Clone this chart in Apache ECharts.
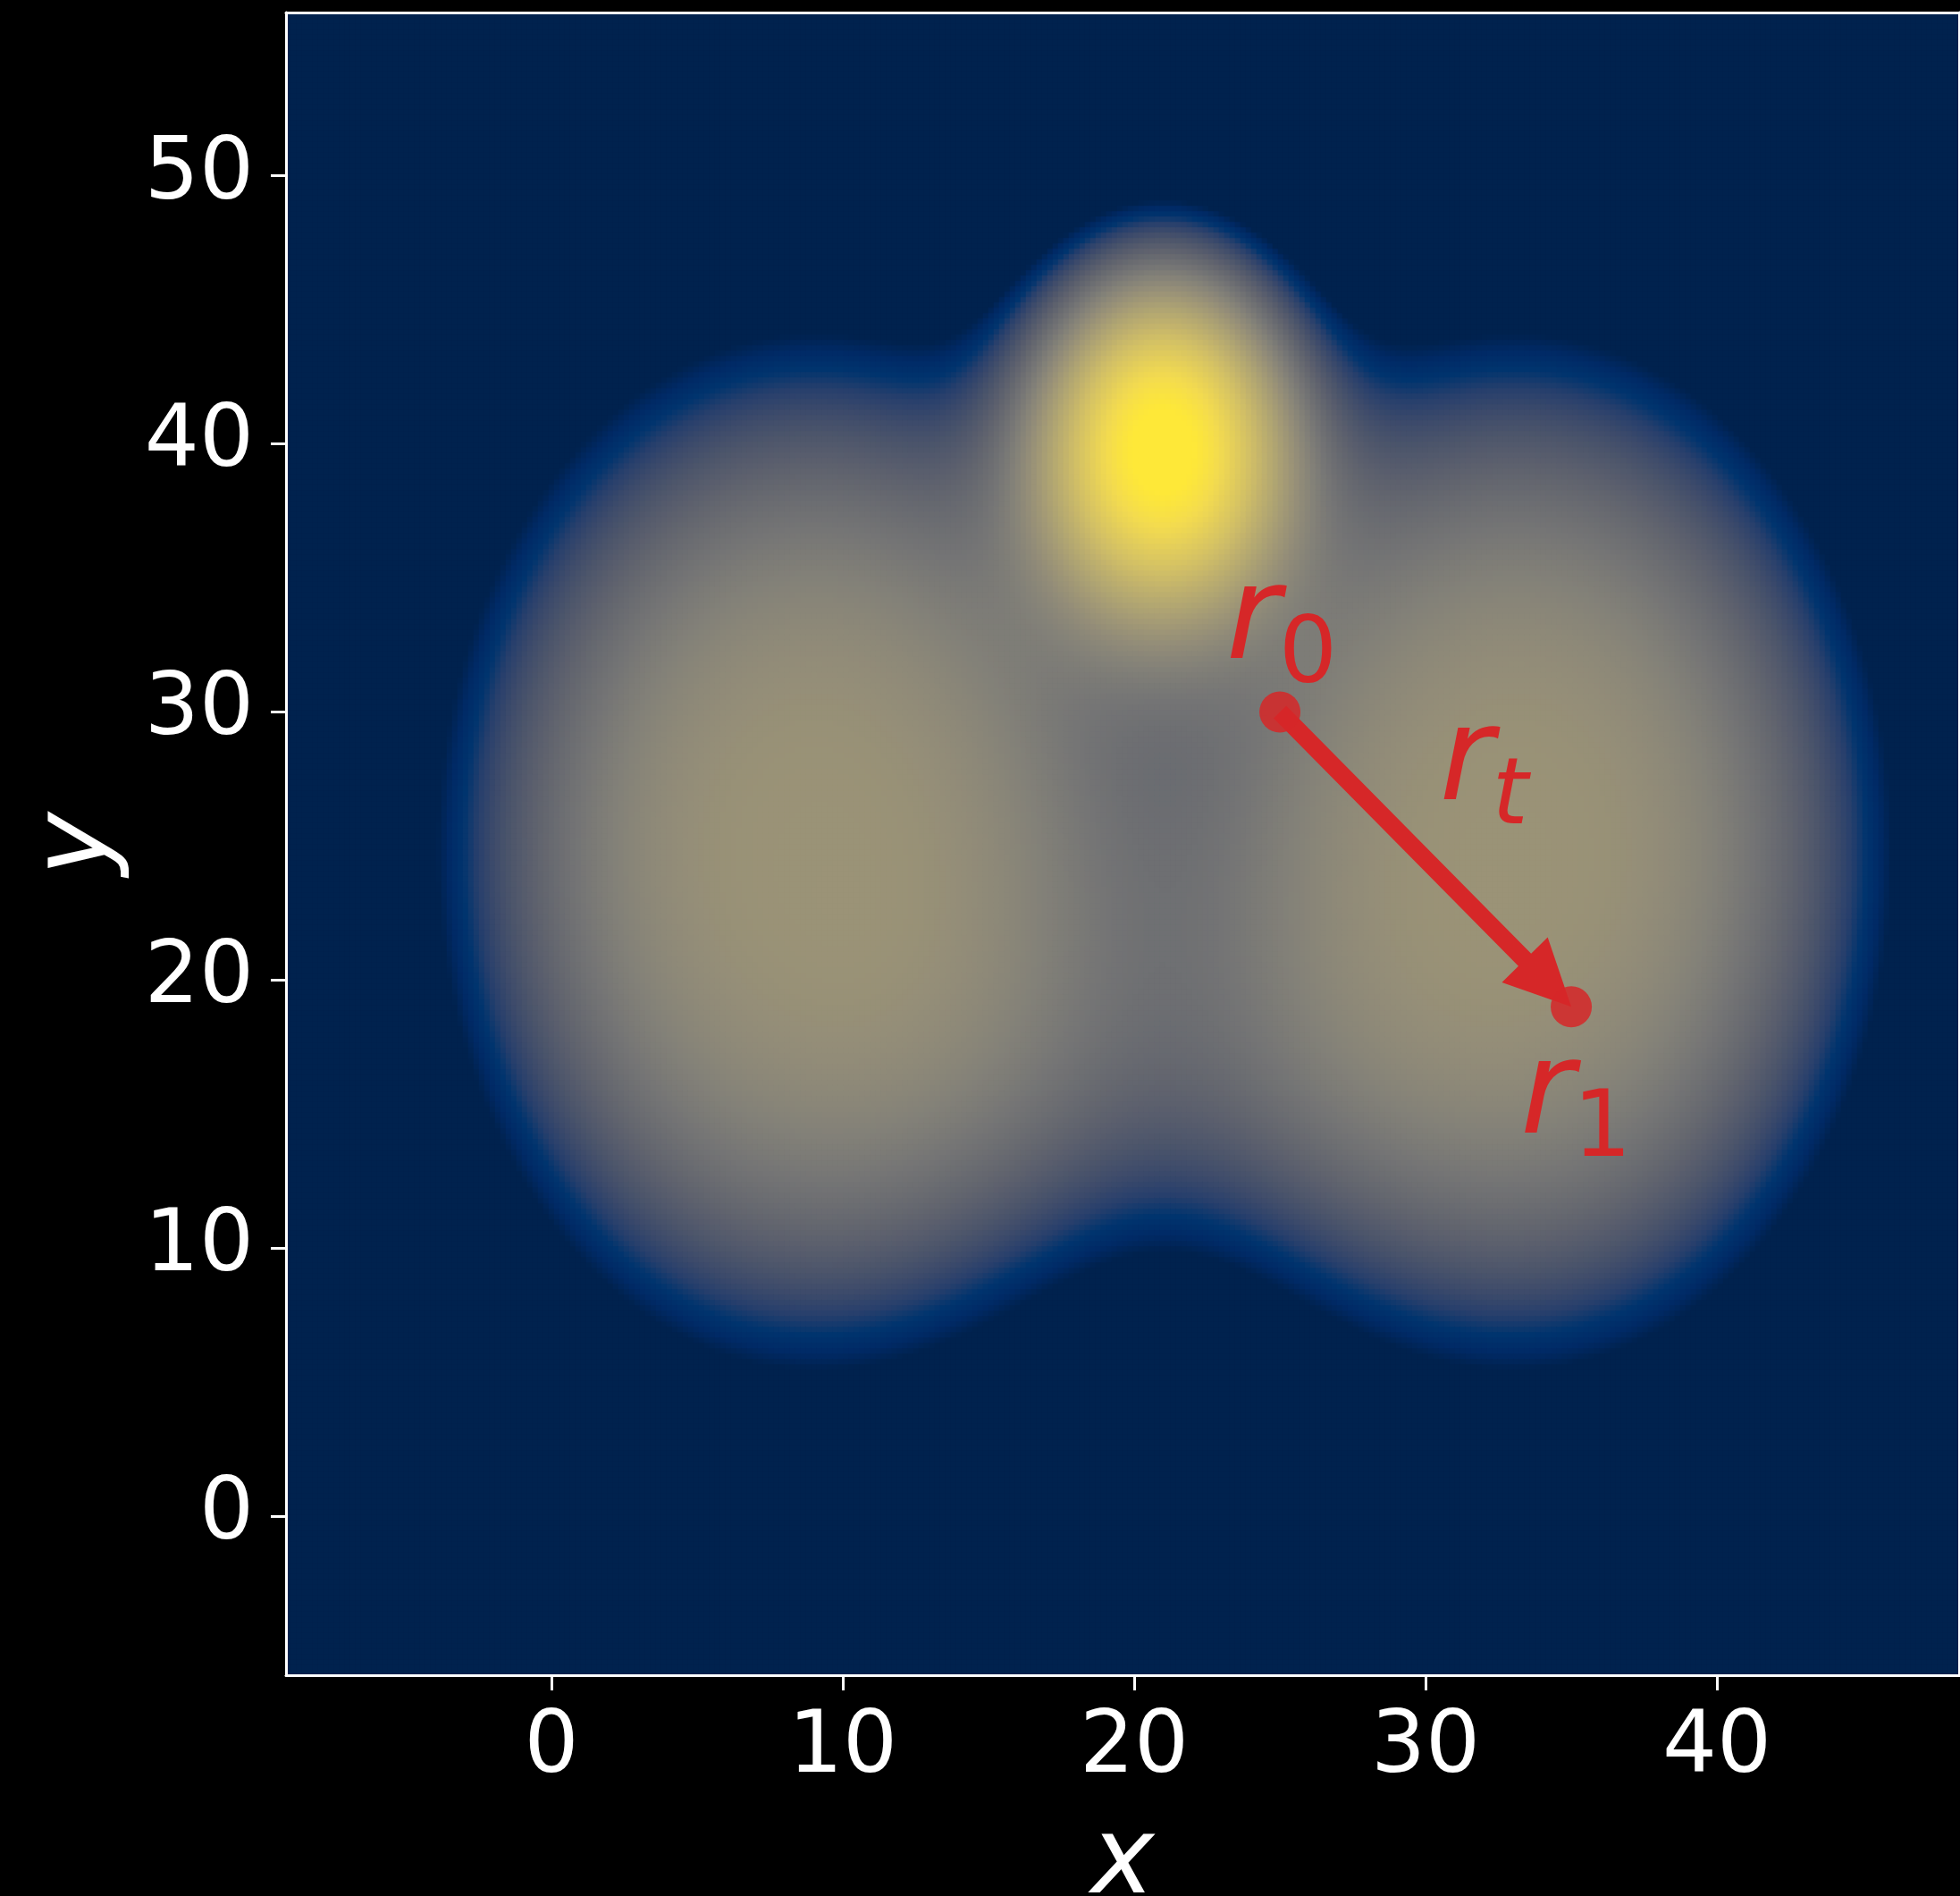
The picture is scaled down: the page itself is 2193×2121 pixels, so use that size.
<!DOCTYPE html>
<html>
<head>
<meta charset="UTF-8">
<title>Density map</title>
<script src="https://cdn.jsdelivr.net/npm/echarts@6/dist/echarts.min.js"></script>
<style>
  html, body { margin: 0; padding: 0; background: #000; }
  #chart { width: 2193px; height: 2121px; }
</style>
</head>
<body>
<div id="chart"></div>
<script>
// blobs: centre, spread, peak height, profile power
// (two broad lobes, the bright top spot, and a faint fill under the gap)
const blobX = [9.0, 33.1, 21.0, 21.0];
const blobY = [24.8, 24.8, 40.0, 15.5];
const blobSx = [9.1, 9.1, 2.85, 5.5];
const blobSy = [13.6, 13.6, 4.2, 4.7];
const blobPeak = [0.417, 0.417, 1.0, 0.07];
const blobPower = [3, 3, 2, 2];

// shown window and ticks
const xRange = [-9.11, 48.31];
const yRange = [-5.93, 56.09];
const xTicks = [0, 10, 20, 30, 40];
const yTicks = [0, 10, 20, 30, 40, 50];

// the move r0 -> r1 and its labels
const pointsXY = [[25, 30], [35, 19]];
const labelXY = [[23.15, 31.58], [30.47, 26.33], [33.25, 13.9]];
const labelSub = ['0', 't', '1'];

// cividis
const cividis = ['#00224e', '#002a66', '#00346e', '#273f6c', '#3c4a6b', '#4c556b', '#5b5f6d',
  '#686a70', '#757575', '#838178', '#928c78', '#a19876', '#b0a572', '#c0b16d', '#d1bf66',
  '#e1cc5c', '#f3db4f', '#fee838'];

const nx = 312, ny = 310;
const cw = (xRange[1] - xRange[0]) / nx;
const ch = (yRange[1] - yRange[0]) / ny;
const xCats = [], yCats = [];
for (let i = 0; i < nx; i++) xCats.push((xRange[0] + (i + 0.5) * cw).toFixed(3));
for (let j = 0; j < ny; j++) yCats.push((yRange[0] + (j + 0.5) * ch).toFixed(3));

const cells = [];
for (let i = 0; i < nx; i++) {
  const x = xRange[0] + (i + 0.5) * cw;
  for (let j = 0; j < ny; j++) {
    const y = yRange[0] + (j + 0.5) * ch;
    let f = 0;
    for (let k = 0; k < blobX.length; k++) {
      const dx = (x - blobX[k]) / blobSx[k];
      const dy = (y - blobY[k]) / blobSy[k];
      const d = Math.sqrt(dx * dx + dy * dy);
      f += blobPeak[k] * Math.exp(-0.5 * Math.pow(d, blobPower[k]));
    }
    let v = Math.log10(f);
    v = Math.max(-1, Math.min(0, v));
    cells.push([i, j, v]);
  }
}

const font = '"DejaVu Sans", sans-serif';
const red = '#d62728';
const grid = { left: 320, top: 14, width: 1872, height: 1860, outerBoundsMode: 'none', containLabel: false };

const chart = echarts.init(document.getElementById('chart'));
chart.setOption({
  backgroundColor: '#000',
  animation: false,
  grid: [
    Object.assign({}, grid),
    Object.assign({}, grid)
  ],
  visualMap: {
    show: false,
    seriesIndex: 0,
    dimension: 2,
    min: -1,
    max: 0,
    inRange: { color: cividis }
  },
  xAxis: [
    { type: 'category', gridIndex: 0, data: xCats, show: false },
    {
      type: 'value', gridIndex: 1, min: xRange[0], max: xRange[1], z: 10,
      axisLine: { show: true, onZero: false, lineStyle: { color: '#fff', width: 3 } },
      axisTick: { show: true, customValues: xTicks, length: 17, lineStyle: { color: '#fff', width: 3 } },
      axisLabel: { customValues: xTicks, color: '#fff', fontSize: 96, fontFamily: font, margin: 35 },
      splitLine: { show: false },
      name: 'x', nameLocation: 'middle', nameGap: 152,
      nameTextStyle: { color: '#fff', fontSize: 120, fontStyle: 'italic', fontFamily: font }
    },
    {
      type: 'value', gridIndex: 1, position: 'top', min: xRange[0], max: xRange[1], z: 10,
      axisLine: { show: true, onZero: false, lineStyle: { color: '#fff', width: 3 } },
      axisTick: { show: false }, axisLabel: { show: false }, splitLine: { show: false }
    }
  ],
  yAxis: [
    { type: 'category', gridIndex: 0, data: yCats, show: false },
    {
      type: 'value', gridIndex: 1, min: yRange[0], max: yRange[1], z: 10,
      axisLine: { show: true, onZero: false, lineStyle: { color: '#fff', width: 3 } },
      axisTick: { show: true, customValues: yTicks, length: 17, lineStyle: { color: '#fff', width: 3 } },
      axisLabel: { customValues: yTicks, color: '#fff', fontSize: 96, fontFamily: font, margin: 36 },
      splitLine: { show: false },
      name: 'y', nameLocation: 'middle', nameGap: 172,
      nameTextStyle: { color: '#fff', fontSize: 120, fontStyle: 'italic', fontFamily: font }
    },
    {
      type: 'value', gridIndex: 1, position: 'right', min: yRange[0], max: yRange[1], z: 10,
      axisLine: { show: true, onZero: false, lineStyle: { color: '#fff', width: 3 } },
      axisTick: { show: false }, axisLabel: { show: false }, splitLine: { show: false }
    }
  ],
  series: [
    {
      type: 'heatmap',
      xAxisIndex: 0, yAxisIndex: 0,
      data: cells,
      progressive: 0,
      emphasis: { disabled: true },
      z: 1
    },
    {
      // arrow r0 -> r1
      type: 'custom',
      xAxisIndex: 1, yAxisIndex: 1,
      z: 5,
      data: [[pointsXY[0][0], pointsXY[0][1], pointsXY[1][0], pointsXY[1][1]]],
      renderItem: function (params, api) {
        const a = api.coord([api.value(0), api.value(1)]);
        const b = api.coord([api.value(2), api.value(3)]);
        const dx = b[0] - a[0], dy = b[1] - a[1];
        const len = Math.hypot(dx, dy);
        const ux = dx / len, uy = dy / len;
        const px = -uy, py = ux;
        const headLen = 74, headHalf = 36, half = 10;
        const hx = b[0] - ux * headLen, hy = b[1] - uy * headLen;
        return {
          type: 'polygon',
          shape: {
            points: [
              [a[0] + px * half, a[1] + py * half],
              [hx + px * half, hy + py * half],
              [hx + px * headHalf, hy + py * headHalf],
              [b[0], b[1]],
              [hx - px * headHalf, hy - py * headHalf],
              [hx - px * half, hy - py * half],
              [a[0] - px * half, a[1] - py * half]
            ]
          },
          style: { fill: red }
        };
      }
    },
    {
      type: 'scatter',
      xAxisIndex: 1, yAxisIndex: 1,
      z: 6,
      symbolSize: 46,
      itemStyle: { color: red, opacity: 0.85 },
      data: pointsXY
    },
    {
      // labels r_0, r_t, r_1
      type: 'custom',
      xAxisIndex: 1, yAxisIndex: 1,
      z: 7,
      data: labelXY.map((p, i) => [p[0], p[1], i]),
      renderItem: function (params, api) {
        const p = api.coord([api.value(0), api.value(1)]);
        const sub = labelSub[api.value(2)];
        const big = 147, small = 103;
        return {
          type: 'group',
          children: [
            {
              type: 'text', x: p[0], y: p[1] - 0.346 * big,
              style: { text: 'r', fill: red, fontSize: big, fontStyle: 'italic', fontFamily: font,
                align: 'left', verticalAlign: 'middle' }
            },
            {
              type: 'text', x: p[0] + 59, y: p[1] + 23 - 0.346 * small,
              style: { text: sub, fill: red, fontSize: small, fontFamily: font,
                fontStyle: sub === 't' ? 'italic' : 'normal',
                align: 'left', verticalAlign: 'middle' }
            }
          ]
        };
      }
    }
  ]
});
</script>
</body>
</html>
